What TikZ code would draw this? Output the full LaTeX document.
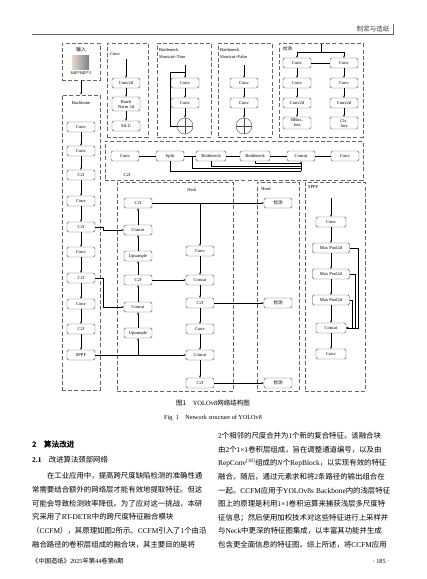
\documentclass[tikz,border=0pt]{standalone}
\usepackage{fontspec}
\setmainfont{Liberation Serif}
\newfontfamily\cjk{Noto Sans CJK SC}
\newfontfamily\cjkb{Noto Sans CJK SC}[FakeBold=1.5]
\usetikzlibrary{arrows.meta}

% stretchable glue between CJK characters, used by \jl only
\XeTeXinterchartoks 1 1 = {\hskip 0pt plus 1pt\relax}
\XeTeXinterchartoks 1 2 = {\hskip 0pt plus 1pt\relax}
\XeTeXinterchartoks 1 3 = {\hskip 0pt plus 1pt\relax}
\XeTeXinterchartoks 2 1 = {\hskip 0pt plus 1pt\relax}
\XeTeXinterchartoks 3 1 = {\hskip 0pt plus 1pt\relax}
\XeTeXinterchartoks 3 2 = {\hskip 0pt plus 1pt\relax}
\XeTeXinterchartoks 0 1 = {\hskip 0pt plus 1pt\relax}
\XeTeXinterchartoks 1 0 = {\hskip 0pt plus 1pt\relax}
\newcommand{\jl}[2]{\makebox[#1][s]{\XeTeXinterchartokenstate=1 #2}}
\newcommand{\en}[1]{{\rmfamily #1}}

\tikzset{
  blk/.style={draw=black!70, rounded corners=1.5pt, line width=0.4pt,
    minimum width=28pt, minimum height=10pt, inner sep=0.5pt,
    font=\fontsize{4.5}{5}\selectfont, align=center},
  grp/.style={draw=black!60, dash pattern=on 4pt off 2.2pt, line width=0.6pt,
    inner sep=0pt},
  lbl/.style={font=\fontsize{4.5}{5}\selectfont, inner sep=0pt},
  arr/.style={-{Stealth[length=2.2pt,width=1.8pt]}, line width=0.4pt},
  ln/.style={line width=0.4pt},
  body/.style={anchor=west, inner sep=0pt, font=\cjk\fontsize{7.4}{8}\selectfont},
}

\begin{document}
\begin{tikzpicture}[x=1pt, y=-1pt]
        \useasboundingbox (0,0) rectangle (427,579);

        % ---------------------------------------------------
        % 1. Page header
        % ---------------------------------------------------
        \coordinate (hl) at (32,34);
        \coordinate (hr) at (394,34);
        \coordinate (ht) at (393,24);
        \draw[black!60, line width=0.5pt] (hl) -- (hr);
        \draw[black!60, line width=0.5pt] (ht) -- (ht |- hr);
        \node[inner sep=0pt, font=\cjk\fontsize{6.5}{7}\selectfont, black!75] (hdr) at (373,29) {制浆与造纸};

        % ---------------------------------------------------
        % 2. Dashed group boxes
        % ---------------------------------------------------
        \node[grp, minimum width=38pt, minimum height=37pt] (inbox) at (81,61.5) {};
        \node[grp, minimum width=41pt, minimum height=94pt] (convbox) at (127.5,90) {};
        \node[grp, minimum width=54pt, minimum height=94pt] (bnt) at (184,90) {};
        \node[grp, minimum width=54pt, minimum height=94pt] (bnf) at (245,90) {};
        \node[grp, minimum width=84pt, minimum height=94pt] (detbox) at (321,90) {};
        \node[grp, minimum width=38pt, minimum height=295pt] (bbbox) at (81,242.5) {};
        \node[grp, minimum width=258pt, minimum height=39pt] (c2fbox) at (234,160.5) {};
        \node[grp, minimum width=116pt, minimum height=209pt] (neckbox) at (175,286.5) {};
        \node[grp, minimum width=42pt, minimum height=209pt] (headbox) at (278,286.5) {};
        \node[grp, minimum width=60pt, minimum height=209pt] (sppfbox) at (335,286.5) {};

        % box titles
        \node[lbl, font=\cjk\fontsize{5}{5}\selectfont] (intitle) at (81,50) {输入};
        \node[lbl] (insize) at (81,73.5) {640*640*3};
        \node[lbl, anchor=west] (convtitle) at (110,54) {Conv};
        \node[lbl, anchor=west] (bnttitle) at (159,49.5) {Bottleneck};
        \node[lbl, anchor=west] (bntsc) at (159,57) {Shortcut=True};
        \node[lbl, anchor=west] (bnftitle) at (220,49.5) {Bottleneck};
        \node[lbl, anchor=west] (bnfsc) at (220,57) {Shortcut=False};
        \node[lbl, anchor=west, font=\cjk\fontsize{4.5}{5}\selectfont] (dettitle) at (283,48.5) {检测};
        \node[lbl] (bbtitle) at (81,103) {Backbone};
        \node[lbl] (c2ftitle) at (127,175) {C2f};
        \node[lbl] (necktitle) at (192,190) {Neck};
        \node[lbl] (headtitle) at (266,189) {Head};
        \node[lbl, anchor=west] (sppftitle) at (308,187) {SPPF};

        % input picture
        \node[minimum width=17pt, minimum height=14pt, inner sep=0pt,
              left color=black!20!brown!25, right color=black!50] (img) at (80.5,62) {};

        % ---------------------------------------------------
        % 3. Top row modules
        % ---------------------------------------------------
        % Conv module
        \coordinate (cvin) at (126,59);
        \node[blk] (cv1) at (126,83) {Conv2d};
        \node[blk, minimum height=14pt] (cv2) at (126,104) {Batch\\Norm 2d};
        \node[blk] (cv3) at (126,126) {SiLU};

        % Bottleneck, shortcut
        \coordinate (tin) at (185,65);
        \coordinate (tskip) at (170,72);
        \node[blk] (t1) at (185,83) {Conv};
        \node[blk] (t2) at (185,103) {Conv};
        \node[draw=black!70, circle, minimum size=16pt, inner sep=0pt, line width=0.4pt,
              path picture={\draw[line width=0.4pt] (path picture bounding box.north) -- (path picture bounding box.south)
                (path picture bounding box.west) -- (path picture bounding box.east);}] (tsum) at (185,126) {};

        % Bottleneck, no shortcut
        \coordinate (fin) at (244,65);
        \node[blk] (f1) at (244,83) {Conv};
        \node[blk] (f2) at (244,103) {Conv};
        \node[draw=black!70, circle, minimum size=16pt, inner sep=0pt, line width=0.4pt,
              path picture={\draw[line width=0.4pt] (path picture bounding box.north) -- (path picture bounding box.south)
                (path picture bounding box.west) -- (path picture bounding box.east);}] (fsum) at (244,126) {};

        % Detect head
        \coordinate (din) at (321,44);
        \coordinate (dsplit) at (321,52);
        \node[blk] (dl1) at (297,63) {Conv};
        \node[blk] (dl2) at (297,83) {Conv};
        \node[blk] (dl3) at (297,103) {Conv2d};
        \node[blk, minimum height=12pt] (dl4) at (297,123) {BBox.\\loss};
        \node[blk] (dr1) at (344,63) {Conv};
        \node[blk] (dr2) at (344,83) {Conv};
        \node[blk] (dr3) at (344,103) {Conv2d};
        \node[blk, minimum height=12pt] (dr4) at (344,123) {Cls.\\loss};

        % ---------------------------------------------------
        % 4. C2f row
        % ---------------------------------------------------
        \node[blk] (c1) at (125,156) {Conv};
        \node[blk] (c2) at (170,156) {Split};
        \node[blk, minimum width=30pt] (c3) at (211,156) {Bottleneck};
        \node[blk, minimum width=30pt] (c4) at (255,156) {Bottleneck};
        \node[blk] (c5) at (301,156) {Concat};
        \node[blk] (c6) at (345,156) {Conv};
        \coordinate (spj) at (192,156);

        % ---------------------------------------------------
        % 5. Backbone, Neck, Head, SPPF
        % ---------------------------------------------------
        \node[blk] (b1) at (81,127) {Conv};
        \node[blk] (b2) at (81,151) {Conv};
        \node[blk] (b3) at (81,175) {C2f};
        \node[blk] (b4) at (81,201) {Conv};
        \node[blk] (b5) at (81,227) {C2f};
        \node[blk] (b6) at (81,252) {Conv};
        \node[blk] (b7) at (81,278) {C2f};
        \node[blk] (b8) at (81,304) {Conv};
        \node[blk] (b9) at (81,329) {C2f};
        \node[blk] (b10) at (81,355) {SPPF};

        % Neck, upward column
        \node[blk] (n1) at (138,203) {C2f};
        \node[blk] (n2) at (138,230) {Concat};
        \node[blk] (n3) at (138,256) {Upsample};
        \node[blk] (n4) at (138,280) {C2f};
        \node[blk] (n5) at (138,307) {Concat};
        \node[blk] (n6) at (138,333) {Upsample};
        % Neck, downward column
        \node[blk] (r1) at (200,251) {Conv};
        \node[blk] (r2) at (200,280) {Concat};
        \node[blk] (r3) at (200,303) {C2f};
        \node[blk] (r4) at (200,329) {Conv};
        \node[blk] (r5) at (200,355) {Concat};
        \node[blk] (r6) at (200,383) {C2f};

        % Head outputs
        \node[blk, font=\cjk\fontsize{4.5}{5}\selectfont] (h1) at (278,203) {检测};
        \node[blk, font=\cjk\fontsize{4.5}{5}\selectfont] (h2) at (278,303) {检测};
        \node[blk, font=\cjk\fontsize{4.5}{5}\selectfont] (h3) at (278,383) {检测};

        % SPPF module
        \coordinate (spin) at (331,198);
        \node[blk, minimum width=30pt] (s1) at (331,222) {Conv};
        \node[blk, minimum width=37pt] (s2) at (331,248) {Max Pool2d};
        \node[blk, minimum width=37pt] (s3) at (331,274) {Max Pool2d};
        \node[blk, minimum width=37pt] (s4) at (331,300) {Max Pool2d};
        \node[blk, minimum width=30pt] (s5) at (331,328) {Concat};
        \node[blk, minimum width=30pt] (s6) at (331,354) {Conv};

        % ---------------------------------------------------
        % 6. Connectors
        % ---------------------------------------------------
        \draw[arr] (cvin) -- (cv1);
        \draw[arr] (cv1) -- (cv2);
        \draw[arr] (cv2) -- (cv3);

        \draw[arr] (tin) -- (t1);
        \draw[arr] (t1) -- (t2);
        \draw[arr] (t2) -- (tsum);
        \draw[ln] (tskip -| t1) -- (tskip) |- (tsum.west);

        \draw[arr] (fin) -- (f1);
        \draw[arr] (f1) -- (f2);
        \draw[arr] (f2) -- (fsum);

        \draw[ln] (din) -- (dsplit);
        \draw[arr] (dsplit) -| (dl1);
        \draw[arr] (dsplit) -| (dr1);
        \draw[ln] (dl1) -- (dr1);
        \draw[arr] (dl1) -- (dl2);
        \draw[arr] (dl2) -- (dl3);
        \draw[arr] (dl3) -- (dl4);
        \draw[arr] (dr1) -- (dr2);
        \draw[arr] (dr2) -- (dr3);
        \draw[arr] (dr3) -- (dr4);

        % C2f chain and its side paths into Concat
        \draw[ln] (c1) -- (c2) (c2) -- (c3) (c3) -- (c4) (c4) -- (c5) (c5) -- (c6);
        \draw[ln] (c4.south) |- (c5.south |- 0,163.5);
        \draw[ln] (c3.south) |- (c5.south |- 0,166);
        \draw[ln] (spj) |- (c5.south |- 0,168.5);
        \draw[ln] (c2.south) |- (c5.south |- 0,171);
        \draw[arr] (c5.south |- 0,171) -- (c5.south);

        % Backbone
        \draw[arr] (inbox.south) -- (bbbox.north);
        \draw[arr] (b1) -- (b2);
        \draw[arr] (b2) -- (b3);
        \draw[arr] (b3) -- (b4);
        \draw[arr] (b4) -- (b5);
        \draw[arr] (b5) -- (b6);
        \draw[arr] (b6) -- (b7);
        \draw[arr] (b7) -- (b8);
        \draw[arr] (b8) -- (b9);
        \draw[arr] (b9) -- (b10);

        % Backbone to Neck
        \draw[arr] (b5.east) -- ++(8,0) |- (n2.west);
        \draw[arr] (b7.east) -- ++(8,0) |- (n5.west);
        \draw[arr] (b10.east) -- (r5.west);
        \draw[arr] (b10.east -| n6.south) -- (n6.south);

        % Neck
        \draw[arr] (n6) -- (n5);
        \draw[arr] (n5) -- (n4);
        \draw[arr] (n4) -- (n3);
        \draw[arr] (n3) -- (n2);
        \draw[arr] (n2) -- (n1);
        \draw[arr] (n4) -- (r2);
        \draw[arr] (n1) -- (h1);
        \draw[arr] (n1.east -| r1) -- (r1);
        \draw[arr] (r1) -- (r2);
        \draw[arr] (r2) -- (r3);
        \draw[arr] (r3) -- (h2);
        \draw[arr] (r3) -- (r4);
        \draw[arr] (r4) -- (r5);
        \draw[arr] (r5) -- (r6);
        \draw[arr] (r6) -- (h3);

        % SPPF
        \draw[arr] (spin) -- (s1);
        \draw[arr] (s1) -- (s2);
        \draw[arr] (s2) -- (s3);
        \draw[arr] (s3) -- (s4);
        \draw[arr] (s4) -- (s5);
        \draw[arr] (s5) -- (s6);
        \draw[arr] (s2.east) -- ++(8.5,0) |- (s5.east);
        \draw[arr] (s3.east) -- ++(5.5,0) |- (s5.east);
        \draw[arr] (s4.east) -- ++(2.5,0) |- (s5.east);

        % ---------------------------------------------------
        % 7. Captions
        % ---------------------------------------------------
        \node[inner sep=0pt, font=\cjk\fontsize{6.5}{7}\selectfont] (capcn) at (213,403) {图1\quad \en{YOLOv8}网络结构图};
        \node[inner sep=0pt, font=\fontsize{6.2}{7}\selectfont] (capen) at (213,418) {Fig. 1\quad Network structure of YOLOv8};

        % ---------------------------------------------------
        % 8. Body text, left column
        % ---------------------------------------------------
        \node[body, font=\cjkb\fontsize{7.6}{8}\selectfont] (sec) at (32,444) {2\quad 算法改进};
        \node[body] (subsec) at (32,460) {\textbf{\en{2.1}}\quad 改进算法颈部网络};
        \node[body] (l1) at (32,476) {\jl{173pt}{\hspace*{14.8pt}在工业应用中，提高跨尺度缺陷检测的准确性通}};
        \node[body] (l2) at (32,490) {\jl{173pt}{常需要结合额外的网络层才能有效地提取特征。但这}};
        \node[body] (l3) at (32,504) {\jl{173pt}{可能会导致检测效率降低。为了应对这一挑战，本研}};
        \node[body] (l4) at (32,517) {\jl{173pt}{究采用了\en{RT-DETR}中的跨尺度特征融合模块}};
        \node[body] (l5) at (32,531) {\jl{173pt}{（\en{CCFM}），其原理如图\en{2}所示。\en{CCFM}引入了\en{1}个由沿}};
        \node[body] (l6) at (32,545) {\jl{173pt}{融合路径的卷积层组成的融合块，其主要目的是将}};
        \node[body, font=\cjk\fontsize{6.3}{7}\selectfont] (foot) at (32,561) {《中国造纸》\en{2025}年第\en{44}卷第\en{6}期};

        % ---------------------------------------------------
        % 9. Body text, right column
        % ---------------------------------------------------
        \node[body] (r01) at (218,436) {\jl{177pt}{\en{2}个相邻的尺度合并为\en{1}个新的复合特征。该融合块}};
        \node[body] (r02) at (218,450) {\jl{177pt}{由\en{2}个\en{1×1}卷积层组成，旨在调整通道编号，以及由}};
        \node[body] (r03) at (218,463) {\jl{177pt}{\en{RepConv\textsuperscript{[18]}}组成的\en{\textit{N}}个\en{RepBlock}，以实现有效的特征}};
        \node[body] (r04) at (218,477) {\jl{177pt}{融合。随后，通过元素求和将\en{2}条路径的输出组合在}};
        \node[body] (r05) at (218,491) {\jl{177pt}{一起。\en{CCFM}应用于\en{YOLOv8s\hspace{2.2pt}Backbone}内的浅层特征}};
        \node[body] (r06) at (218,504) {\jl{177pt}{图上的原理是利用\en{1×1}卷积运算来捕获浅层多尺度特}};
        \node[body] (r07) at (218,518) {\jl{177pt}{征信息；然后使用加权技术对这些特征进行上采样并}};
        \node[body] (r08) at (218,531) {\jl{177pt}{与\en{Neck}中更深的特征图集成，以丰富其功能并生成}};
        \node[body] (r09) at (218,545) {\jl{177pt}{包含更全面信息的特征图。综上所述，将\en{CCFM}应用}};
        \node[inner sep=0pt, font=\fontsize{6.3}{7}\selectfont] (pageno) at (381,561) {· 185 ·};

\end{tikzpicture}
\end{document}
